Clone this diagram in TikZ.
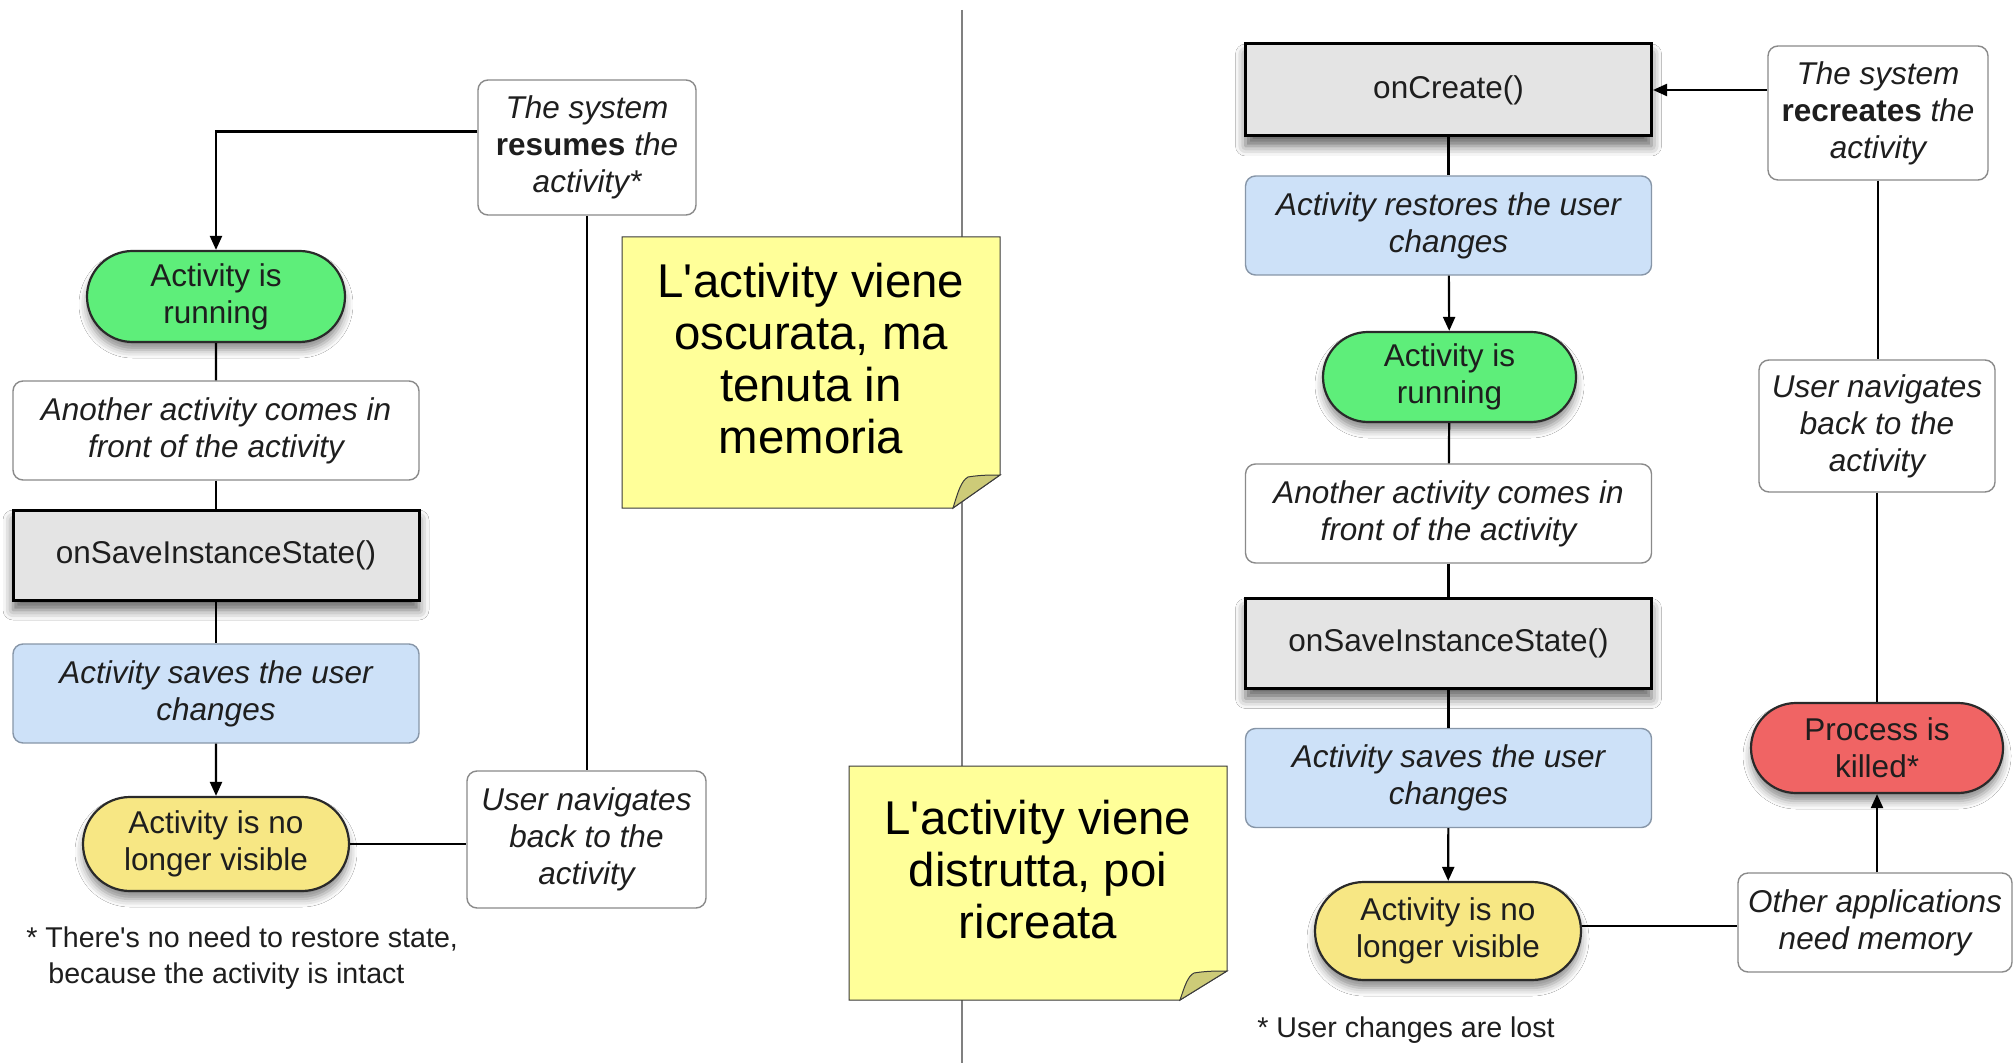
\documentclass[tikz,border=0pt]{standalone}
\usepackage{fontspec}
\setmainfont{Liberation Sans}
\newfontfamily\plainsans{Liberation Sans}
\usetikzlibrary{shapes.misc,shadows.blur,arrows.meta,calc}
\definecolor{txt}{HTML}{1E1E1E}
\definecolor{wborder}{HTML}{8A8A8A}
\definecolor{bluefill}{HTML}{CDE1F8}
\definecolor{bborder}{HTML}{8796A8}
\definecolor{grayfill}{HTML}{E4E4E4}
\definecolor{greenfill}{HTML}{5EEE7A}
\definecolor{yellowfill}{HTML}{F7E784}
\definecolor{redfill}{HTML}{F06464}
\definecolor{pillborder}{HTML}{2A2A2A}
\definecolor{notefill}{HTML}{FFFF99}
\definecolor{foldfill}{HTML}{CDCB78}
\definecolor{noteborder}{HTML}{3A3A3A}
\definecolor{divgray}{HTML}{808080}
\begin{document}
\begin{tikzpicture}[x=0.5pt,y=-0.5pt,
  boxfont/.style={font=\fontsize{15.75}{18.5}\selectfont},
  wbox/.style={draw=wborder, line width=0.7pt, fill=white, rounded corners=5pt,
    font=\fontsize{15.75}{18.5}\selectfont\itshape, text=txt, align=center, inner sep=0pt},
  bbox/.style={wbox, fill=bluefill, draw=bborder, minimum width=203pt, minimum height=49.5pt},
  cbox/.style={wbox, minimum width=203pt, minimum height=49.5pt},
  gbox/.style={draw=black, line width=1.5pt, fill=grayfill, minimum width=203pt, minimum height=45pt,
    boxfont, text=txt, inner sep=0pt,
    blur shadow={shadow xshift=0pt, shadow yshift=-5pt, shadow blur radius=5pt, shadow opacity=60}},
  pill/.style={rounded rectangle, draw=pillborder, line width=1.1pt, boxfont, text=txt, align=center, inner sep=0pt,
    blur shadow={shadow xshift=0pt, shadow yshift=-4pt, shadow blur radius=4pt, shadow opacity=45}},
  foot/.style={font=\plainsans\fontsize{14.3}{18}\selectfont, text=txt, align=left, inner sep=0pt, anchor=west},
  notetext/.style={font=\plainsans\fontsize{23.7}{26}\selectfont, text=black, align=center, inner sep=0pt},
  conn/.style={line width=1.1pt, draw=black},
  arr/.style={conn, -{Triangle[length=7pt,width=6pt]}},
  divider/.style={draw=divgray, line width=0.6pt},
  note/.style={fill=notefill, draw=noteborder, line width=0.5pt},
  fold/.style={fill=foldfill, draw=noteborder, line width=0.5pt},
]
\useasboundingbox (0,0) rectangle (2016,1063);
\fill[white] (0,0) rectangle (2016,1063);

% divider
\draw[divider] (962,10) -- (962,1063);

% ---------------- left diagram ----------------
\node[wbox, minimum width=109pt, minimum height=67.5pt] (res) at (587,147.5)
  {The system\\{\upshape\bfseries resumes} the\\activity*};
\node[pill, fill=greenfill, minimum width=129pt, minimum height=45.5pt] (run1) at (216,296.5) {Activity is\\running};
\node[cbox] (ano1) at (216,430.5) {Another activity comes in\\front of the activity};
\node[gbox] (osi1) at (216,555) {onSaveInstanceState()};
\node[bbox] (sav1) at (216,693.5) {Activity saves the user\\changes};
\node[pill, fill=yellowfill, minimum width=133pt, minimum height=47pt] (vis1) at (216,844) {Activity is no\\longer visible};
\node[wbox, minimum width=119.5pt, minimum height=68.5pt] (nav1) at (586.5,839.5) {User navigates\\back to the\\activity};
\node[foot] (foot1) at (26,958) {* There's no need to restore state,\\\hspace*{11pt}because the activity is intact};

\draw[arr] ([yshift=8pt]res.west) -| (run1.north);
\draw[conn] (run1) -- (ano1);
\draw[conn] (ano1) -- (osi1);
\draw[conn] (osi1) -- (sav1);
\draw[arr] (sav1) -- (vis1);
\draw[conn] (res.south) -- (res.south |- nav1.north);
\draw[conn] (vis1.east) -- (vis1.east -| nav1.west);

% ---------------- right diagram ----------------
\node[gbox, minimum height=46pt] (onc) at (1448.5,90) {onCreate()};
\node[wbox, minimum width=110pt, minimum height=67pt] (rec) at (1878,113)
  {The system\\{\upshape\bfseries recreates} the\\activity};
\node[bbox] (rst) at (1448.5,225.5) {Activity restores the user\\changes};
\node[pill, fill=greenfill, minimum width=126.5pt, minimum height=45pt] (run2) at (1449.5,377) {Activity is\\running};
\node[cbox] (ano2) at (1448.5,513.5) {Another activity comes in\\front of the activity};
\node[gbox] (osi2) at (1448.5,643.5) {onSaveInstanceState()};
\node[bbox] (sav2) at (1448.5,778) {Activity saves the user\\changes};
\node[pill, fill=yellowfill, minimum width=133pt, minimum height=49pt] (vis2) at (1448,931) {Activity is no\\longer visible};
\node[wbox, minimum width=118pt, minimum height=66pt] (nav2) at (1877,426) {User navigates\\back to the\\activity};
\node[pill, fill=redfill, minimum width=126pt, minimum height=45pt] (kil) at (1877,748) {Process is\\killed*};
\node[wbox, minimum width=137pt, minimum height=49.5pt] (oth) at (1875,922.5) {Other applications\\need memory};
\node[foot] (foot2) at (1257,1030) {* User changes are lost};

\draw[arr] (rec.west |- onc.east) -- (onc.east);
\draw[conn] (onc) -- (rst);
\draw[arr] (rst) -- (run2);
\draw[conn] (run2) -- (ano2);
\draw[conn] (ano2) -- (osi2);
\draw[conn] (osi2) -- (sav2);
\draw[arr] (sav2) -- (vis2);
\draw[conn] (rec.south) -- (rec.south |- nav2.north);
\draw[conn] (nav2.south) -- (nav2.south |- kil.north);
\draw[arr] (oth.north -| kil.south) -- (kil.south);
\draw[conn] ([yshift=2.5pt]vis2.east) -- ([yshift=2.5pt]vis2.east -| oth.west);

% ---------------- sticky notes ----------------
\path[note] (622,237) -- (1000,237) -- (1000,475) -- (953,508) -- (622,508) -- cycle;
\path[fold] (953,508) .. controls (958,492) and (961,481) .. (968,477) .. controls (980,475) and (990,475) .. (1000,475) -- cycle;
\node[notetext] (note1) at (811,358.5) {L'activity viene\\oscurata, ma\\tenuta in\\memoria};

\path[note] (849,766) -- (1227,766) -- (1227,971) -- (1180,1000) -- (849,1000) -- cycle;
\path[fold] (1180,1000) .. controls (1185,985) and (1188,976) .. (1194,973) .. controls (1206,971) and (1216,971) .. (1227,971) -- cycle;
\node[notetext] (note2) at (1038,870) {L'activity viene\\distrutta, poi\\ricreata};
\end{tikzpicture}
\end{document}
